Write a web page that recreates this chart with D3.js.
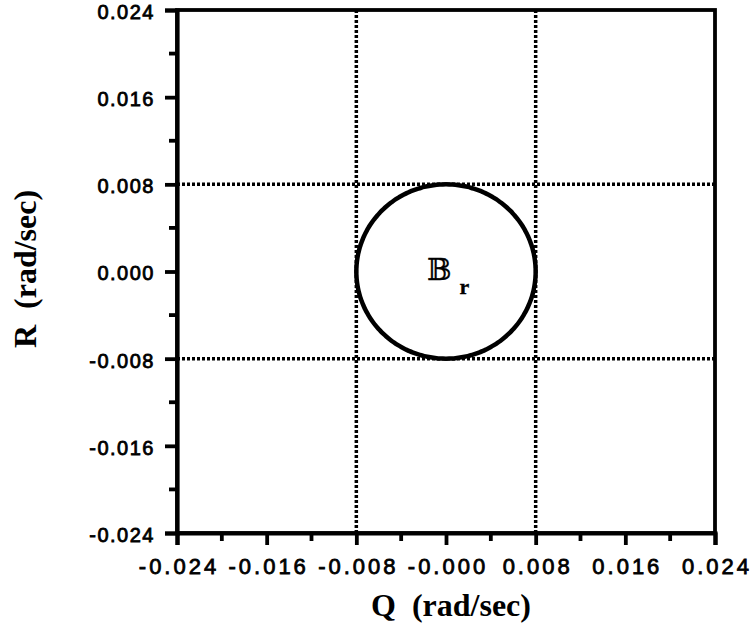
<!DOCTYPE html>
<html>
<head>
<meta charset="utf-8">
<script src="https://cdn.jsdelivr.net/npm/d3@7"></script>
<style>
  html, body { margin: 0; padding: 0; background: #fff; }
  svg { display: block; }
</style>
</head>
<body>
<svg id="chart" width="753" height="630"></svg>
<script>
// Axis ranges and tick labels (rad/sec)
const qDomain = [-0.024, 0.024];
const rDomain = [-0.024, 0.024];
const qTickValues = [-0.024, -0.016, -0.008, 0.0, 0.008, 0.016, 0.024];
const qTickLabels = ["-0.024", "-0.016", "-0.008", "-0.000", "0.008", "0.016", "0.024"];
const rTickValues = [-0.024, -0.016, -0.008, 0.0, 0.008, 0.016, 0.024];
const rTickLabels = ["-0.024", "-0.016", "-0.008", "0.000", "0.008", "0.016", "0.024"];
const minorTickValues = [-0.020, -0.012, -0.004, 0.004, 0.012, 0.020];

// Dotted grid lines bounding the region
const gridQ = [-0.008, 0.008];
const gridR = [-0.008, 0.008];

// Circular region B_r: centre and radius
const regionCenter = [0.0, 0.0];
const regionRadius = 0.008;
const regionLabel = "𝔹";
const regionSub = "r";

const svg = d3.select("#chart");
const plot = { left: 177, right: 715, top: 10, bottom: 533 };

const x = d3.scaleLinear().domain(qDomain).range([plot.left, plot.right]);
const y = d3.scaleLinear().domain(rDomain).range([plot.bottom, plot.top]);

// Dotted grid lines
const grid = svg.append("g")
  .attr("stroke", "#000").attr("stroke-width", 3.5)
  .attr("stroke-dasharray", "3,2");
grid.selectAll("line.v").data(gridQ).join("line").attr("class", "v")
  .attr("x1", d => x(d)).attr("x2", d => x(d))
  .attr("y1", y(rDomain[1])).attr("y2", y(rDomain[0]));
grid.selectAll("line.h").data(gridR).join("line").attr("class", "h")
  .attr("y1", d => y(d)).attr("y2", d => y(d))
  .attr("x1", x(qDomain[0])).attr("x2", x(qDomain[1]));

// Region boundary
const angles = d3.range(0, 360, 2).map(a => a * Math.PI / 180);
const circleLine = d3.line()
  .x(a => x(regionCenter[0] + regionRadius * Math.cos(a)))
  .y(a => y(regionCenter[1] + regionRadius * Math.sin(a)))
  .curve(d3.curveCardinalClosed);
svg.append("path")
  .datum(angles)
  .attr("d", circleLine)
  .attr("fill", "none").attr("stroke", "#000").attr("stroke-width", 4.5);

// Region label
const lab = svg.append("text")
  .attr("y", y(regionCenter[1]) + 8)
  .attr("font-family", "DejaVu Serif, DejaVu Sans, serif")
  .attr("font-size", 29).attr("fill", "#000")
  .attr("stroke", "#000").attr("stroke-width", 0.3);
lab.append("tspan").attr("x", x(regionCenter[0]) - 19).text(regionLabel);
lab.append("tspan").attr("dx", 8).attr("dy", 14)
  .attr("font-family", "Liberation Serif, serif").attr("font-weight", "bold")
  .attr("font-size", 22).text(regionSub);

// Frame
svg.append("rect")
  .attr("x", plot.left).attr("y", plot.top)
  .attr("width", plot.right - plot.left).attr("height", plot.bottom - plot.top)
  .attr("fill", "none").attr("stroke", "#000").attr("stroke-width", 3.8);

const labelFont = "Liberation Sans, Arial, Helvetica, sans-serif";

// Bottom axis
const xAxis = d3.axisBottom(x)
  .tickValues(qTickValues)
  .tickSize(12)
  .tickFormat((d, i) => qTickLabels[i]);
const gx = svg.append("g").attr("transform", `translate(0,${plot.bottom})`).call(xAxis);
gx.select(".domain").attr("stroke-width", 4.2);
gx.selectAll(".tick line").attr("stroke-width", 3.8);
gx.selectAll(".tick text")
  .attr("font-family", labelFont)
  .attr("font-size", 22).attr("fill", "#000")
  .attr("stroke", "#000").attr("stroke-width", 0.8)
  .attr("letter-spacing", 3)
  .attr("y", 25).attr("dy", "0.71em").attr("dx", 1.5);
gx.selectAll("line.minor").data(minorTickValues).join("line")
  .attr("class", "minor")
  .attr("x1", d => x(d)).attr("x2", d => x(d))
  .attr("y1", 0).attr("y2", 8)
  .attr("stroke", "#000").attr("stroke-width", 3.8);

// Left axis
const yAxis = d3.axisLeft(y)
  .tickValues(rTickValues)
  .tickSize(12)
  .tickFormat((d, i) => rTickLabels[i]);
const gy = svg.append("g").attr("transform", `translate(${plot.left},0)`).call(yAxis);
gy.select(".domain").attr("stroke-width", 4.2);
gy.selectAll(".tick line").attr("stroke-width", 3.8);
gy.selectAll(".tick text")
  .attr("font-family", labelFont)
  .attr("font-size", 20).attr("fill", "#000")
  .attr("stroke", "#000").attr("stroke-width", 0.8)
  .attr("letter-spacing", 1.5)
  .attr("x", -22).attr("dy", "0.42em");
gy.selectAll("line.minor").data(minorTickValues).join("line")
  .attr("class", "minor")
  .attr("y1", d => y(d)).attr("y2", d => y(d))
  .attr("x1", 0).attr("x2", -8)
  .attr("stroke", "#000").attr("stroke-width", 3.8);

// Axis titles
const titleFont = "Liberation Serif, Times New Roman, serif";
svg.append("text")
  .attr("x", 451).attr("y", 616)
  .attr("text-anchor", "middle")
  .attr("font-family", titleFont)
  .attr("font-weight", "bold").attr("font-size", 32)
  .attr("xml:space", "preserve")
  .text("Q  (rad/sec)");
svg.append("text")
  .attr("transform", `translate(36,269) rotate(-90)`)
  .attr("text-anchor", "middle")
  .attr("font-family", titleFont)
  .attr("font-weight", "bold").attr("font-size", 32)
  .attr("xml:space", "preserve")
  .text("R  (rad/sec)");
</script>
</body>
</html>
